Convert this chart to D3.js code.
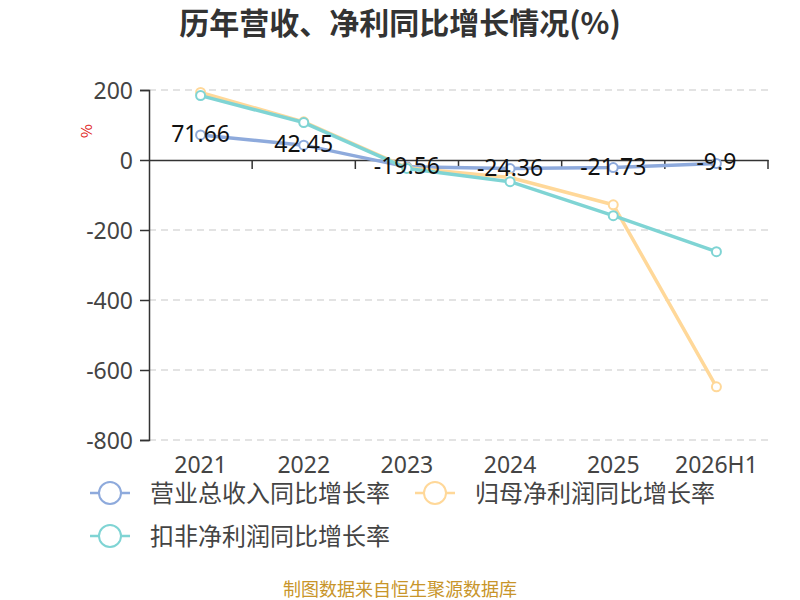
<!DOCTYPE html>
<html>
<head>
<meta charset="utf-8">
<script src="https://cdn.jsdelivr.net/npm/d3@7"></script>
<style>
  body { margin: 0; background: #fff; }
  svg { font-family: "Noto Sans CJK SC", "Noto Sans", sans-serif; }
</style>
</head>
<body>
<div id="chart"></div>
<script>
// Chart data
const categories = ["2021", "2022", "2023", "2024", "2025", "2026H1"];
const revenueGrowth = [71.66, 42.45, -19.56, -24.36, -21.73, -9.9];
const netProfitGrowth = [193, 109, -22, -50, -128, -648];
const deductedProfitGrowth = [184, 107, -24, -62, -159, -262];
const yTicks = [200, 0, -200, -400, -600, -800];

const seriesNames = ["营业总收入同比增长率", "归母净利润同比增长率", "扣非净利润同比增长率"];
const seriesColors = ["#8eaadc", "#ffd899", "#7fd4d4"];

const width = 800, height = 600;
const margin = {top: 90, right: 32, bottom: 160, left: 149};
const numFont = "'Noto Sans', sans-serif";

const svg = d3.select("#chart")
  .append("svg")
  .attr("width", width)
  .attr("height", height);

// Title
svg.append("text")
  .attr("x", 400)
  .attr("y", 34)
  .attr("text-anchor", "middle")
  .style("font-size", "30px")
  .style("font-weight", "bold")
  .style("fill", "#333")
  .text("历年营收、净利同比增长情况(%)");

const xScale = d3.scaleBand()
  .domain(categories)
  .range([margin.left, width - margin.right]);

const yScale = d3.scaleLinear()
  .domain([-800, 200])
  .range([height - margin.bottom, margin.top]);

// Grid lines
svg.append("g")
  .selectAll("line")
  .data(yTicks.filter(d => d !== 0))
  .enter()
  .append("line")
  .attr("x1", margin.left)
  .attr("x2", width - margin.right)
  .attr("y1", d => yScale(d))
  .attr("y2", d => yScale(d))
  .style("stroke", "#c8c8c8")
  .style("stroke-width", 1.2)
  .style("stroke-dasharray", "7,5");

// Y axis
const yAxis = svg.append("g")
  .attr("transform", `translate(${margin.left},0)`)
  .call(d3.axisLeft(yScale).tickValues(yTicks).tickSize(9).tickPadding(7)
    .tickFormat(d => String(d)));
yAxis.select(".domain").style("stroke", "#333").style("stroke-width", 1.5);
yAxis.selectAll(".tick line").style("stroke", "#333").style("stroke-width", 1.5);
yAxis.selectAll("text")
  .attr("dy", "0.36em")
  .style("font-size", "23px")
  .style("fill", "#444")
  .style("font-family", numFont);

// X axis at zero
const xAxis = svg.append("g")
  .attr("transform", `translate(0,${yScale(0)})`)
  .call(d3.axisBottom(xScale).tickSizeOuter(0).tickSize(0).tickFormat(""));
xAxis.select(".domain").style("stroke", "#333").style("stroke-width", 1.5);

// Ticks at band boundaries
const boundaries = categories.map(c => xScale(c)).concat([xScale.range()[1]]);
svg.append("g")
  .selectAll("line")
  .data(boundaries.slice(1))
  .enter()
  .append("line")
  .attr("x1", d => d)
  .attr("x2", d => d)
  .attr("y1", yScale(0))
  .attr("y2", yScale(0) + 9)
  .style("stroke", "#333")
  .style("stroke-width", 1.5);

// X labels at bottom
svg.append("g")
  .selectAll("text")
  .data(categories)
  .enter()
  .append("text")
  .attr("x", d => xScale(d) + xScale.bandwidth() / 2)
  .attr("y", yScale(-800) + 33)
  .attr("text-anchor", "middle")
  .style("font-size", "23px")
  .style("fill", "#444")
  .style("font-family", numFont)
  .text(d => d);

// Unit label
svg.append("text")
  .attr("transform", `translate(92,131) rotate(-90)`)
  .attr("text-anchor", "middle")
  .style("font-size", "15px")
  .style("fill", "#e02020")
  .text("%");

const line = d3.line()
  .x((d, i) => xScale(categories[i]) + xScale.bandwidth() / 2)
  .y(d => yScale(d));

const allSeries = [revenueGrowth, netProfitGrowth, deductedProfitGrowth];

allSeries.forEach((values, s) => {
  svg.append("path")
    .datum(values)
    .attr("d", line)
    .style("fill", "none")
    .style("stroke", seriesColors[s])
    .style("stroke-width", 3.5)
    .style("stroke-linejoin", "round");

  svg.append("g")
    .selectAll("circle")
    .data(values)
    .enter()
    .append("circle")
    .attr("cx", (d, i) => xScale(categories[i]) + xScale.bandwidth() / 2)
    .attr("cy", d => yScale(d))
    .attr("r", 4.5)
    .style("fill", "#fff")
    .style("stroke", seriesColors[s])
    .style("stroke-width", 2);
});

// Data labels for revenue growth
svg.append("g")
  .selectAll("text")
  .data(revenueGrowth)
  .enter()
  .append("text")
  .attr("x", (d, i) => xScale(categories[i]) + xScale.bandwidth() / 2)
  .attr("y", d => yScale(d) + 7)
  .attr("text-anchor", "middle")
  .style("font-size", "23px")
  .style("fill", "#111")
  .style("font-family", numFont)
  .text(d => String(d));

// Legend
const legendItems = [
  {x: 90, y: 493},
  {x: 415, y: 493},
  {x: 90, y: 536}
];
legendItems.forEach((p, i) => {
  const g = svg.append("g").attr("transform", `translate(${p.x},${p.y})`);
  g.append("line")
    .attr("x1", 0).attr("x2", 40)
    .style("stroke", seriesColors[i])
    .style("stroke-width", 2.5);
  g.append("circle")
    .attr("cx", 20)
    .attr("r", 11)
    .style("fill", "#fff")
    .style("stroke", seriesColors[i])
    .style("stroke-width", 2);
  g.append("text")
    .attr("x", 60)
    .attr("y", 9)
    .style("font-size", "24px")
    .style("fill", "#444")
    .text(seriesNames[i]);
});

// Footer
svg.append("text")
  .attr("x", 400)
  .attr("y", 596)
  .attr("text-anchor", "middle")
  .style("font-size", "18px")
  .style("fill", "#c8952a")
  .text("制图数据来自恒生聚源数据库");
</script>
</body>
</html>
